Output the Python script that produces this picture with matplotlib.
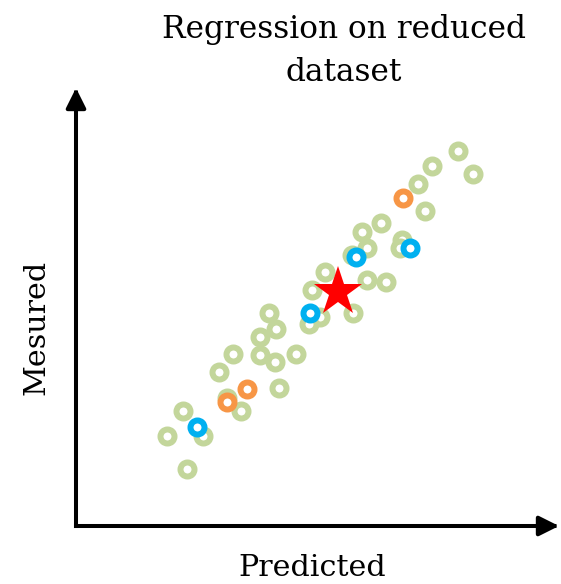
import matplotlib
matplotlib.use("Agg")
import matplotlib.pyplot as plt

# Predicted vs measured values (arbitrary units, 0-100 along each axis)
train_pred = [79.1, 82.2, 73.7, 70.8, 72.3, 63.1, 59.2, 60.2, 67.5, 67.1, 57.1,
              51.6, 60.2, 64.2, 48.9, 50.5, 57.3, 40.0, 48.2, 41.4, 38.1, 32.5,
              38.1, 41.2, 45.5, 29.6, 31.3, 34.2, 42.0, 22.2, 26.3, 18.8, 23.0]
train_meas = [85.6, 80.4, 82.2, 78.1, 71.9, 69.2, 67.1, 63.5, 65.3, 63.5, 61.9,
              58.0, 56.2, 55.7, 53.9, 47.7, 48.6, 48.6, 46.1, 45.0, 43.2, 39.3,
              39.0, 37.4, 39.3, 35.2, 29.2, 26.3, 31.5, 26.3, 20.5, 20.5, 13.0]

orange_pred = [67.7, 35.4, 31.3]
orange_meas = [74.9, 31.3, 28.3]

blue_pred = [69.2, 58.0, 48.4, 25.1]
blue_meas = [63.5, 61.4, 48.6, 22.6]

star_pred = [54.2]
star_meas = [53.5]

GREEN = "#C3D69B"
ORANGE = "#F79646"
BLUE = "#00B0F0"
RED = "#FF0000"

fig = plt.figure(figsize=(5.61, 5.84), dpi=100)
W, H = 561, 584
# axes box: origin at the corner of the arrows
x0, y0, x1, y1 = 76, 526, 559, 88
ax = fig.add_axes([x0 / W, 1 - y0 / H, (x1 - x0) / W, (y0 - y1) / H])
ax.set_xlim(0, 100)
ax.set_ylim(0, 100)
ax.set_axis_off()

ring = dict(linestyle="none", marker="o", markersize=10.1, markeredgewidth=4.3,
            markerfacecolor="white")
ax.plot(train_pred, train_meas, markeredgecolor=GREEN, **ring)
ax.plot(orange_pred, orange_meas, markeredgecolor=ORANGE, **ring)
ax.plot(blue_pred, blue_meas, markeredgecolor=BLUE, **ring)
ax.plot(star_pred, star_meas, linestyle="none", marker="*", markersize=37,
        color=RED, markeredgewidth=0)

# axis arrows; projecting caps close the corner at the origin
arrow = dict(arrowstyle="-|>,head_length=0.6,head_width=0.3", lw=2.9,
             color="black", shrinkA=0, shrinkB=0, mutation_scale=20,
             capstyle="projecting")
ax.annotate("", xy=(1, 0), xytext=(0, 0), xycoords="axes fraction",
            arrowprops=arrow, annotation_clip=False)
ax.annotate("", xy=(0, 1), xytext=(0, 0), xycoords="axes fraction",
            arrowprops=arrow, annotation_clip=False)

font = "DejaVu Serif"
# baseline of the last title line
fig.text(344 / W, 1 - 81 / H, "Regression on reduced\ndataset", ha="center",
         va="baseline", fontsize=22.5, family=font, linespacing=1.5)
fig.text(312 / W, 1 - 576 / H, "Predicted", ha="center", va="baseline",
         fontsize=21.7, family=font)
fig.text(45 / W, 1 - 327 / H, "Mesured", ha="center", va="baseline",
         rotation=90, fontsize=21.7, family=font, rotation_mode="anchor")

fig.savefig("out.png", dpi=100)
